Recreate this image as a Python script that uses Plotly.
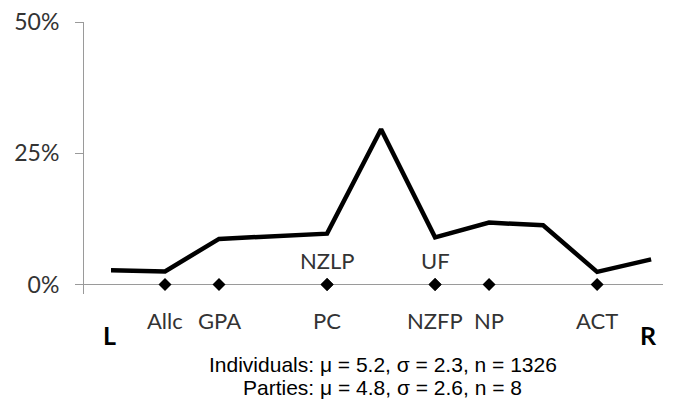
import plotly.graph_objects as go

# Distribution of individuals' self-placement on 0-10 left-right scale (%)
scale_points = [0, 1, 2, 3, 4, 5, 6, 7, 8, 9, 10]
individual_pct = [2.7, 2.5, 8.7, 9.2, 9.7, 29.6, 9.0, 11.8, 11.3, 2.4, 4.8]

# Party placements
party_names = ["Allc", "GPA", "PC", "NZLP", "NZFP", "UF", "NP", "ACT"]
party_pos = [1, 2, 4, 4, 6, 6, 7, 9]
party_label_above = [False, False, False, True, False, True, False, False]

y_tickvals = [0, 25, 50]
y_ticktext = ["0%", "25%", "50%"]

end_labels = ["L", "R"]
end_pos = [0, 10]

stats_lines = ["Individuals: μ = 5.2, σ = 2.3, n = 1326",
               "Parties: μ = 4.8, σ = 2.6, n = 8"]

LABEL_FONT = "Lato, 'DejaVu Sans Condensed', sans-serif"
GREY = "#9a9a9a"

# page body has an 8px margin, so the figure is sized to the remaining area
W, H = 667, 393
L_M, T_M, B_M = 76, 14, 107
plot_h = H - T_M - B_M

fig = go.Figure()
fig.add_trace(go.Scatter(
    x=scale_points, y=individual_pct, mode="lines",
    line=dict(color="black", width=4.5), cliponaxis=False, showlegend=False))
fig.add_trace(go.Scatter(
    x=party_pos, y=[0] * len(party_pos), mode="markers",
    marker=dict(symbol="diamond", size=10, color="black"),
    cliponaxis=False, showlegend=False))

annotations = []
for name, pos, above in zip(party_names, party_pos, party_label_above):
    annotations.append(dict(
        x=pos, y=0, xref="x", yref="y", text=name, showarrow=False,
        yshift=24 if above else -36,
        font=dict(family=LABEL_FONT, size=22, color="#333333")))
for lab, pos in zip(end_labels, end_pos):
    annotations.append(dict(
        x=pos, y=0, xref="x", yref="y", text="<b>" + lab + "</b>", showarrow=False,
        yshift=-50, xshift=-2 if lab == "L" else -3,
        font=dict(family=LABEL_FONT, size=25, color="black")))
for i, line in enumerate(stats_lines):
    py = [364, 387.5][i] - 8  # centre in figure pixels
    annotations.append(dict(
        x=0.516, y=(T_M + plot_h - py) / plot_h, xref="paper", yref="paper",
        text=line, showarrow=False, yanchor="middle",
        font=dict(family="'Liberation Sans', Arial, sans-serif", size=21, color="black")))

fig.update_layout(
    width=W, height=H,
    margin=dict(l=L_M, r=11.5, t=T_M, b=B_M, pad=0),
    paper_bgcolor="white", plot_bgcolor="white",
    showlegend=False,
    annotations=annotations,
    xaxis=dict(range=[-0.5, 10.22], visible=False, showgrid=False, zeroline=False),
    yaxis=dict(
        range=[-1.81, 50.05], tickvals=y_tickvals, ticktext=y_ticktext,
        showgrid=False, showline=True, linecolor=GREY, linewidth=1,
        zeroline=True, zerolinecolor=GREY, zerolinewidth=1,
        ticks="outside", ticklen=8, tickcolor=GREY, tickwidth=1,
        ticklabelstandoff=11, automargin=False, ticklabeloverflow="allow",
        tickfont=dict(family=LABEL_FONT, size=23, color="#333333")),
)

fig.write_html("out.html")
